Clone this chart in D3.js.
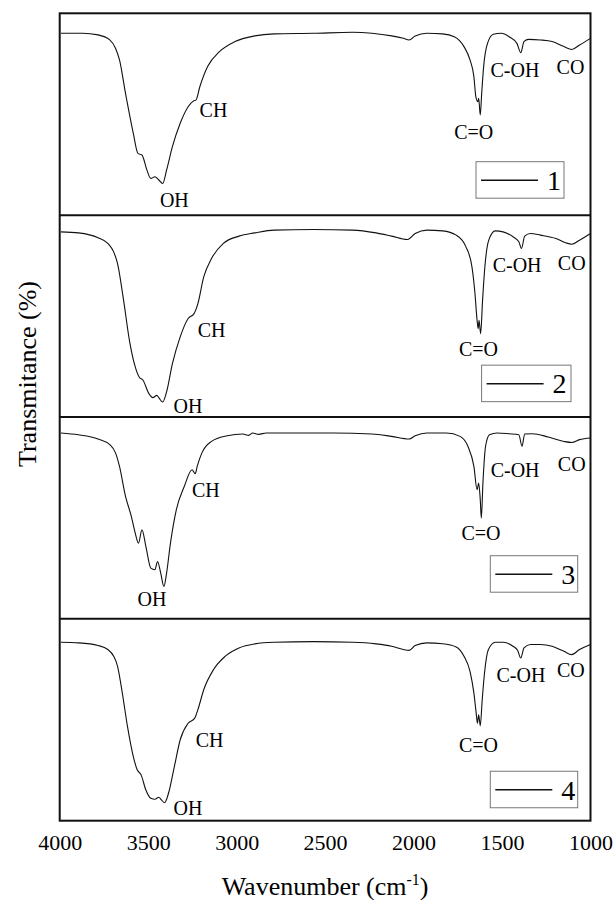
<!DOCTYPE html>
<html>
<head>
<meta charset="utf-8">
<script src="https://cdn.jsdelivr.net/npm/d3@7"></script>
<style>
body{margin:0;background:#fff;}
svg text{font-family:"Liberation Serif","Times New Roman","DejaVu Serif",serif;fill:#000;}
</style>
</head>
<body>
<div class="chart"></div>
<script>
// wavenumber (cm-1) and transmittance readings, one pair of arrays per sample
const wn1=[3993,3872,3783,3717,3684,3662,3628,3584,3558,3535,3507,3485,3462,3440,3418,3396,3363,3319,3274,3241,3230,3208,3164,3097,3009,2898,2788,2566,2345,2235,2124,2058,2025,1991,1925,1836,1770,1715,1681,1659,1648,1637,1632,1623,1615,1604,1582,1549,1504,1460,1416,1394,1376,1350,1283,1217,1150,1106,1062,1000];
const t1=[90.1,90.1,89.3,86.8,82.6,76.9,60.3,40.5,30.6,29.8,22.3,18.2,19.0,17.4,15.7,22.3,33.9,45.5,53.7,56.7,57.0,63.6,73.6,81.0,86.0,88.8,89.8,90.1,90.6,90.1,88.8,87.6,86.8,88.8,90.1,89.8,88.4,83.5,76.9,68.6,58.7,56.2,57.9,49.6,60.3,73.6,85.1,89.6,90.1,88.4,85.1,80.5,86.0,87.1,86.8,86.0,83.5,82.1,84.3,87.6];

const wn2=[3993,3894,3783,3728,3695,3673,3639,3606,3573,3551,3529,3496,3473,3451,3440,3418,3396,3363,3319,3274,3241,3219,3186,3142,3075,2987,2898,2788,2566,2345,2212,2124,2036,1991,1925,1836,1759,1704,1670,1653,1641,1635,1630,1621,1610,1597,1575,1538,1494,1438,1405,1390,1372,1339,1283,1195,1140,1106,1062,1000];
const t2=[91.7,91.2,88.8,86.0,81.8,76.0,57.9,38.0,24.8,19.8,18.2,11.6,9.6,10.7,9.6,7.4,12.4,26.4,39.7,48.8,51.2,56.2,69.4,78.5,86.0,89.6,91.2,92.6,92.9,92.6,91.2,89.6,87.9,90.9,92.6,92.2,90.1,84.3,74.4,61.2,47.9,43.8,47.9,41.3,57.9,74.4,87.6,92.2,91.7,89.3,86.8,83.5,89.6,90.9,90.1,88.4,86.3,85.6,87.6,90.9];

const wn3=[3993,3894,3783,3717,3684,3662,3628,3595,3573,3555,3535,3513,3485,3462,3447,3429,3411,3396,3374,3341,3296,3252,3234,3223,3197,3142,3053,2965,2932,2909,2876,2832,2677,2456,2235,2124,2025,1991,1925,1814,1737,1693,1659,1641,1632,1623,1617,1608,1593,1571,1527,1460,1405,1387,1372,1327,1239,1150,1106,1062,1000];
const t3=[92.1,91.2,89.1,86.3,82.1,75.5,60.7,50.7,42.5,37.5,44.1,35.9,25.1,24.3,28.4,22.6,16.0,22.6,37.5,54.0,65.6,73.9,71.9,75.5,82.1,87.9,90.7,91.6,90.9,92.1,91.4,92.1,92.1,92.1,91.6,90.4,89.1,90.7,92.1,92.1,90.4,85.5,75.5,64.0,67.3,59.0,49.9,67.3,85.5,91.2,92.1,91.7,91.2,85.5,91.6,91.7,90.1,87.9,87.4,88.8,89.6];

const wn4=[3993,3894,3783,3728,3695,3673,3646,3617,3584,3562,3540,3513,3485,3462,3440,3425,3407,3385,3352,3319,3274,3237,3219,3186,3131,3064,2987,2898,2788,2566,2345,2212,2124,2058,2025,1991,1925,1836,1759,1715,1681,1659,1646,1639,1632,1623,1612,1599,1577,1538,1494,1438,1412,1394,1376,1339,1283,1217,1150,1106,1062,1000];
const t4=[88.4,88.1,86.8,84.8,81.5,76.5,63.2,46.7,31.8,25.2,22.7,15.2,11.1,10.6,11.6,10.3,8.9,13.6,26.8,40.1,48.3,50.8,55.0,64.9,74.8,81.5,85.6,87.6,88.4,88.7,88.4,87.6,86.4,84.8,84.4,86.8,88.1,87.7,86.1,81.5,74.0,63.2,53.3,48.3,52.5,47.0,59.9,73.2,84.8,88.4,88.4,86.4,84.4,80.6,85.6,87.3,87.3,86.4,83.9,82.3,84.8,87.3];

const sampleNames=["1","2","3","4"];
const xTicks=[4000,3500,3000,2500,2000,1500,1000];
const bandNames=["OH","CH","C=O","C-OH","CO"];
// label anchors per panel as [wavenumber, transmittance]
const bandAt=[
  [[3352,7.5],[3131,52.1],[1660,41.4],[1427,71.9],[1113,73.5]],
  [[3275,5.4],[3141,43.0],[1633,33.6],[1415,75.2],[1106,76.4]],
  [[3478,9.8],[3174,64.0],[1619,42.5],[1426,73.8],[1106,76.9]],
  [[3275,6.3],[3153,40.2],[1633,37.7],[1393,72.4],[1111,74.9]]
];

const W=613,H=900;
const mLeft=59.7,mRight=590.5,mTop=13.3,mBottom=820.7;
const ph=(mBottom-mTop)/4;
const serif="Liberation Serif, Times New Roman, serif";
// legend box offsets inside each panel: x0, x1, y0 (from panel top)
const legendBox=[[476,564,148.4],[481.6,571,150],[490.3,577.7,138.7],[490.3,577.7,152.4]];

const svg=d3.select(".chart").append("svg")
  .attr("width",W)
  .attr("height",H)
  .attr("font-family",serif);

const x=d3.scaleLinear().domain([4000,1000]).range([mLeft,mRight]);

const series=[[wn1,t1],[wn2,t2],[wn3,t3],[wn4,t4]];

series.forEach(function(s,i){
  const y0=mTop+i*ph;
  const y=d3.scaleLinear().domain([0,100]).range([y0+ph,y0]);
  const pts=s[0].map((w,k)=>[w,s[1][k]]);

  const line=d3.line()
    .x(d=>x(d[0]))
    .y(d=>y(d[1]))
    .curve(d3.curveMonotoneX);

  svg.append("path")
    .datum(pts)
    .attr("d",line)
    .attr("fill","none")
    .attr("stroke","#111")
    .attr("stroke-width",1.1);

  svg.selectAll(null)
    .data(bandAt[i])
    .enter().append("text")
    .attr("x",d=>x(d[0]))
    .attr("y",d=>y(d[1]))
    .attr("dy","0.35em")
    .attr("text-anchor","middle")
    .attr("font-size",20)
    .text((d,k)=>bandNames[k]);

  // legend
  const lb=legendBox[i];
  const g=svg.append("g");
  g.append("rect")
    .attr("x",lb[0]).attr("y",y0+lb[2])
    .attr("width",lb[1]-lb[0]).attr("height",36.5)
    .attr("fill","#fff").attr("stroke","#777").attr("stroke-width",1);
  g.append("line")
    .attr("x1",lb[0]+5).attr("x2",lb[0]+62)
    .attr("y1",y0+lb[2]+18.5).attr("y2",y0+lb[2]+18.5)
    .attr("stroke","#111").attr("stroke-width",1.5);
  g.append("text")
    .attr("x",lb[0]+78).attr("y",y0+lb[2]+18.5)
    .attr("dy","0.35em")
    .attr("text-anchor","middle")
    .attr("font-size",28)
    .text(sampleNames[i]);

  if(i>0){
    svg.append("line")
      .attr("x1",mLeft).attr("x2",mRight)
      .attr("y1",y0).attr("y2",y0)
      .attr("stroke","#111").attr("stroke-width",2);
  }
});

// frame
svg.append("rect")
  .attr("x",mLeft).attr("y",mTop)
  .attr("width",mRight-mLeft).attr("height",mBottom-mTop)
  .attr("fill","none").attr("stroke","#111").attr("stroke-width",2);

// x axis labels
const ax=svg.append("g")
  .attr("transform","translate(0,"+mBottom+")")
  .call(d3.axisBottom(x).tickValues(xTicks).tickSize(0).tickPadding(14).tickFormat(d3.format("d")));
ax.attr("font-family",serif);
ax.select(".domain").remove();
ax.selectAll("text").attr("font-size",22);

// axis titles
const xt=svg.append("text")
  .attr("x",(mLeft+mRight)/2).attr("y",895)
  .attr("text-anchor","middle")
  .attr("font-size",26);
xt.append("tspan").text("Wavenumber (cm");
xt.append("tspan").attr("font-size",16).attr("dy",-10).text("-1");
xt.append("tspan").attr("dy",10).text(")");

svg.append("text")
  .attr("transform","translate(36,374) rotate(-90)")
  .attr("text-anchor","middle")
  .attr("font-size",26)
  .text("Transmitance (%)");
</script>
</body>
</html>
